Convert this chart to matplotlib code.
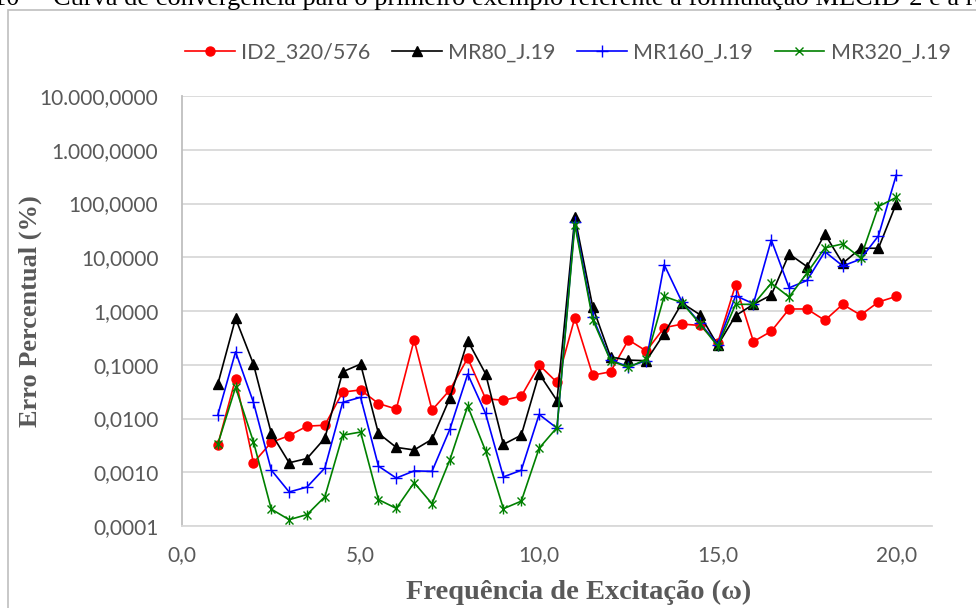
import matplotlib.pyplot as plt
import matplotlib.ticker as mticker
from matplotlib.patches import Rectangle
import numpy as np

# frequency of excitation (x) and percentual error for each model
freq = [1.0 + 0.5 * i for i in range(39)]

id2_320 = [0.0032, 0.055, 0.0015, 0.0036, 0.0048, 0.0072, 0.0075, 0.031, 0.034, 0.019,
           0.015, 0.29, 0.0143, 0.034, 0.133, 0.0234, 0.0218, 0.026, 0.099, 0.047,
           0.75, 0.064, 0.074, 0.29, 0.18, 0.49, 0.57, 0.54, 0.255, 3.07,
           0.27, 0.42, 1.09, 1.09, 0.67, 1.33, 0.84, 1.47, 1.87]
mr80 = [0.043, 0.73, 0.103, 0.0053, 0.0015, 0.0018, 0.0043, 0.074, 0.103, 0.0053,
        0.0029, 0.0026, 0.0041, 0.024, 0.28, 0.068, 0.0033, 0.0049, 0.068, 0.0215,
        55.8, 1.19, 0.14, 0.122, 0.119, 0.38, 1.41, 0.855, 0.231, 0.82,
        1.33, 1.98, 11.5, 6.7, 27.0, 7.7, 14.7, 14.7, 100.0]
mr160 = [0.0115, 0.174, 0.020, 0.0011, 0.00043, 0.00053, 0.0012, 0.020, 0.0248, 0.0013,
         0.00078, 0.00106, 0.00104, 0.0063, 0.067, 0.0124, 0.00082, 0.00109, 0.0119, 0.0066,
         45.7, 0.77, 0.122, 0.092, 0.119, 7.3, 1.47, 0.60, 0.238, 1.92,
         1.37, 21.0, 2.7, 3.7, 12.7, 6.9, 9.2, 25.0, 340.0]
mr320 = [0.0033, 0.038, 0.0037, 0.000206, 0.000131, 0.000163, 0.00035, 0.0049, 0.0056, 0.00031,
         0.000213, 0.00064, 0.00026, 0.0017, 0.017, 0.0025, 0.00021, 0.00029, 0.0028, 0.0068,
         40.0, 0.69, 0.119, 0.089, 0.127, 1.87, 1.43, 0.58, 0.222, 1.33,
         1.33, 3.3, 1.82, 5.1, 14.9, 17.7, 9.7, 88.0, 130.0]

labels = ['ID2_320/576', 'MR80_J.19', 'MR160_J.19', 'MR320_J.19']

GRAY = '#595959'
sans = ['Lato', 'DejaVu Sans']
serif = ['Liberation Serif', 'DejaVu Serif']

fig = plt.figure(figsize=(9.76, 6.08), dpi=100)
ax = fig.add_axes([182/976, 1-526/608, (932-182)/976, (526-96)/608])

ax.plot(freq, id2_320, color='red', marker='o', ms=6.5, lw=1.2, label=labels[0])
ax.plot(freq, mr80, color='black', marker='^', ms=6.5, lw=1.2, label=labels[1])
ax.plot(freq, mr160, color='blue', marker='+', ms=8, mew=1.0, lw=1.2, label=labels[2])
ax.plot(freq, mr320, color='green', marker='x', ms=5.5, mew=1.0, lw=1.2, label=labels[3])
ax.plot(freq, mr320, color='green', marker='|', ms=6.5, mew=1.0, lw=0)

ax.set_yscale('log')
ax.set_ylim(1e-4, 1e4)
ax.set_xlim(0, 21)
ax.set_xticks([0, 5, 10, 15, 20])
ax.xaxis.set_major_formatter(mticker.FuncFormatter(lambda v, p: f'{v:.1f}'.replace('.', ',')))

def fmt_y(v, p):
    s = f'{v:,.4f}'
    return s.replace(',', 'X').replace('.', ',').replace('X', '.')

ax.yaxis.set_major_locator(mticker.LogLocator(base=10, numticks=20))
ax.yaxis.set_minor_locator(mticker.NullLocator())
ax.yaxis.set_major_formatter(mticker.FuncFormatter(fmt_y))

ax.grid(axis='y', color='#d9d9d9', lw=1.3)
ax.set_axisbelow(True)
for s in ['top', 'right']:
    ax.spines[s].set_visible(False)
ax.spines['left'].set_color('#bfbfbf')
ax.spines['bottom'].set_color('#d9d9d9')
ax.spines['left'].set_linewidth(1.3)
ax.spines['bottom'].set_linewidth(1.3)
ax.tick_params(length=0, labelsize=15, labelcolor=GRAY)
ax.tick_params(axis='y', pad=17)
ax.tick_params(axis='x', pad=14)
for t in ax.get_xticklabels() + ax.get_yticklabels():
    t.set_family(sans)

ax.set_xlabel('Frequência de Excitação (ω)', family=serif, fontweight='bold',
              fontsize=20.5, color=GRAY)
ax.xaxis.set_label_coords((579-182)/750, (526-592)/430, transform=ax.transAxes)
ax.xaxis.label.set_va('center')
ax.set_ylabel('Erro Percentual (%)', family=serif, fontweight='bold',
              fontsize=19, color=GRAY)
ax.yaxis.set_label_coords((30-182)/750, 0.5, transform=ax.transAxes)
ax.yaxis.label.set_va('center')

leg = fig.legend(loc='center', bbox_to_anchor=(568/976, 1-53/608), ncol=4, frameon=False,
                 prop={'family': sans, 'size': 15.5}, handlelength=2.3, columnspacing=1.0,
                 handletextpad=0.3)
for t in leg.get_texts():
    t.set_color(GRAY)

# chart border and cut caption above it
fig.patches.append(Rectangle((8/976, -0.1), 1.2, 1-10/608 + 0.1, transform=fig.transFigure,
                             fill=False, ec='#bfbfbf', lw=1.2))
fig.text(-7/976, 1-5/608, '10 –', family=serif, fontsize=19, va='baseline', ha='left')
fig.text(53/976, 1-5/608, 'Curva de convergência para o primeiro exemplo referente à formulação MECID-2 e a resposta',
         family=serif, fontsize=19, va='baseline', ha='left')

fig.savefig('out.png', dpi=100)
